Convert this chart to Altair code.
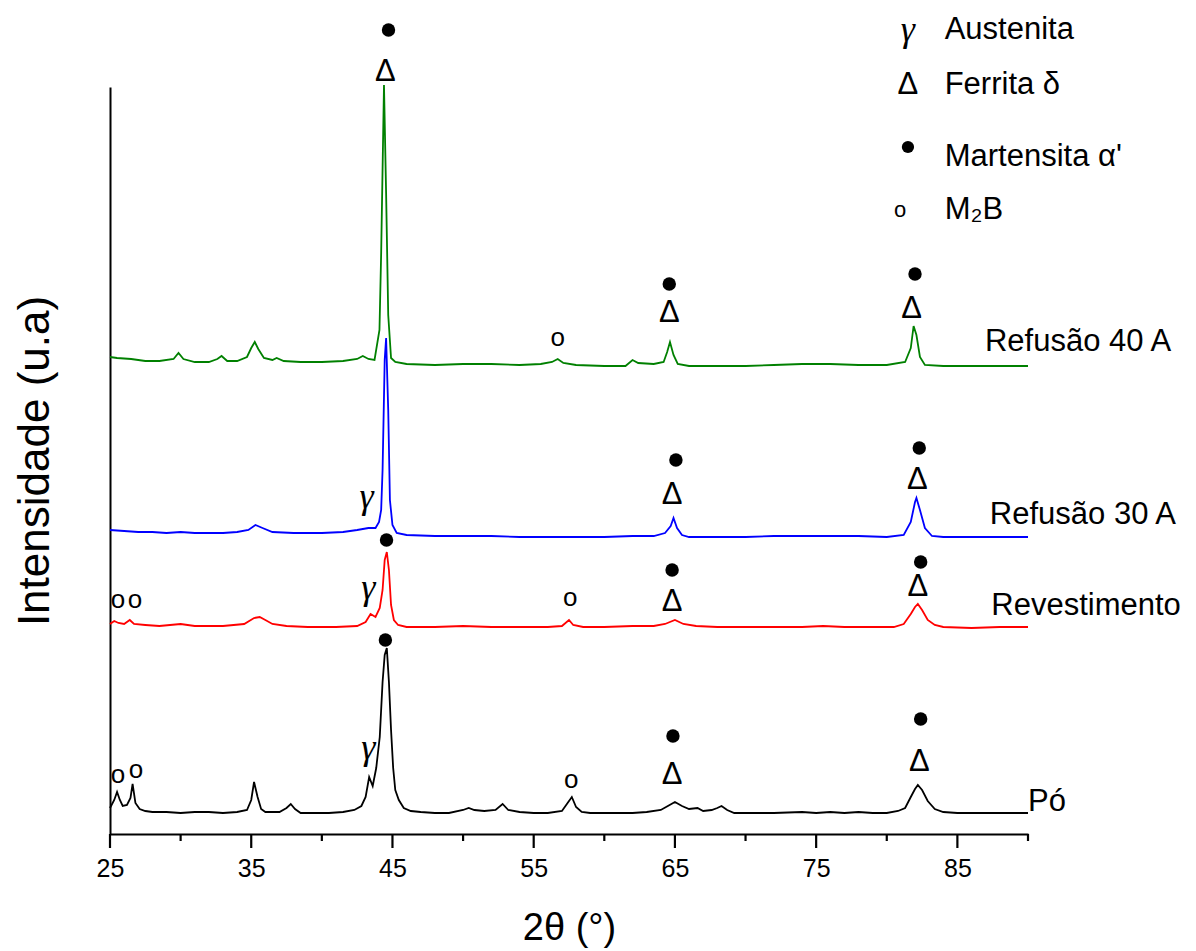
import altair as alt
import pandas as pd

# ---------------- data ----------------
series_names = ["Pó", "Revestimento", "Refusão 30 A", "Refusão 40 A"]
series_colors = ["#000000", "#FF0000", "#0000FF", "#008000"]

po_x = [25.0, 25.3, 25.5, 25.7, 25.9, 26.2, 26.45, 26.6, 26.8, 27.1, 27.5, 28.0, 29.0, 30.0, 31.0,
        32.0, 33.0, 34.0, 34.7, 35.0, 35.2, 35.45, 35.7, 36.0, 37.0, 37.5, 37.8, 38.1, 38.5, 39.5,
        40.5, 41.5, 42.3, 42.8, 43.1, 43.35, 43.6, 43.85, 44.1, 44.3, 44.45, 44.6, 44.75, 44.9,
        45.05, 45.2, 45.45, 45.8, 46.3, 47.0, 48.0, 49.0, 50.0, 50.4, 50.8, 51.5, 52.3, 52.8, 53.2,
        54.0, 55.0, 56.0, 57.0, 57.4, 57.7, 58.0, 58.4, 59.0, 60.0, 61.0, 62.0, 63.0, 64.0, 64.5,
        65.0, 65.5, 66.0, 66.6, 67.0, 67.6, 68.0, 68.3, 68.7, 69.2, 70.0, 72.0, 74.0, 75.0, 76.0,
        77.0, 78.0, 79.0, 80.0, 80.8, 81.3, 81.7, 82.0, 82.2, 82.5, 82.9, 83.4, 84.0, 85.0, 86.0,
        87.0, 88.0, 89.0, 90.0]
po_y = [26, 34, 42, 34, 28, 29, 36, 50, 31, 25, 23, 22, 22, 21, 22,
        22, 21, 22, 24, 34, 52, 37, 25, 22, 22, 26, 30, 25, 21, 21,
        21, 22, 24, 28, 37, 57, 48, 66, 97, 152, 179, 186, 152, 104,
        66, 44, 34, 26, 23, 22, 21, 21, 24, 26, 24, 23, 24, 30, 24,
        22, 21, 21, 23, 31, 37, 27, 22, 21, 21, 21, 21, 22, 24, 28,
        32, 28, 25, 26, 23, 24, 26, 28, 24, 21, 21, 21, 22, 21, 22,
        21, 22, 21, 21, 23, 26, 37, 45, 49, 44, 33, 25, 22, 21, 21,
        21, 21, 21, 21]

rev_x = [25.0, 25.3, 25.6, 26.0, 26.4, 26.7, 27.5, 28.5, 30.0, 31.0, 32.0, 33.0, 34.5, 35.2, 35.6,
         36.0, 36.5, 37.5, 39.0, 41.0, 42.5, 43.1, 43.45, 43.8, 44.1, 44.3, 44.45, 44.6, 44.75,
         44.9, 45.1, 45.4, 46.0, 48.0, 50.0, 52.0, 54.0, 56.0, 57.0, 57.5, 57.8, 58.5, 60.0, 62.0,
         63.5, 64.3, 65.0, 65.6, 66.5, 68.0, 70.0, 72.0, 74.0, 75.5, 77.0, 79.0, 80.5, 81.2, 81.7,
         82.0, 82.2, 82.5, 82.9, 83.4, 84.0, 86.0, 88.0, 90.0]
rev_y = [210, 213, 211, 210, 214, 210, 209, 208, 210, 208, 208, 208, 210, 216, 217,
         214, 210, 208, 207, 207, 208, 212, 220, 217, 226, 244, 274, 282, 264,
         229, 214, 209, 207, 207, 208, 207, 207, 207, 208, 214, 209, 207, 207, 208,
         208, 210, 214, 210, 208, 207, 207, 207, 207, 208, 207, 207, 207, 210, 220,
         227, 230, 224, 214, 209, 207, 206, 207, 207]

r30_x = [25.0, 26.0, 27.0, 28.0, 29.0, 30.0, 31.0, 32.0, 33.0, 34.0, 34.8, 35.3, 35.8, 36.5, 38.0,
         40.0, 41.5, 42.5, 43.3, 43.8, 44.05, 44.2, 44.3, 44.45, 44.55, 44.7, 44.82, 45.0, 45.3,
         46.0, 48.0, 50.0, 52.0, 54.0, 56.0, 58.0, 60.0, 62.0, 63.5, 64.3, 64.7, 64.9, 65.15,
         65.5, 66.0, 68.0, 70.0, 72.0, 74.0, 76.0, 78.0, 80.0, 81.2, 81.7, 82.0, 82.1, 82.35,
         82.7, 83.2, 84.0, 86.0, 88.0, 90.0]
r30_y = [304, 303, 302, 302, 301, 302, 301, 301, 301, 302, 304, 309, 306, 302, 301,
         301, 302, 304, 306, 306, 312, 324, 364, 474, 496, 424, 334, 309, 301,
         299, 298, 298, 298, 297, 297, 297, 297, 298, 298, 301, 308, 316, 306,
         299, 297, 297, 297, 298, 298, 298, 298, 297, 299, 312, 332, 336, 324,
         306, 298, 297, 297, 297, 297]

r40_x = [25.0, 25.5, 26.5, 27.5, 28.5, 29.5, 29.85, 30.2, 31.0, 32.0, 32.6, 32.9, 33.3, 34.0, 34.7,
         35.0, 35.25, 35.5, 35.9, 36.5, 36.8, 37.3, 38.5, 40.0, 41.5, 42.5, 42.9, 43.3, 43.73,
         44.08, 44.2, 44.4, 44.55, 44.7, 44.9, 45.2, 46.0, 48.0, 50.0, 52.0, 54.0, 55.5, 56.3,
         56.7, 57.1, 58.0, 60.0, 61.5, 62.0, 62.4, 63.5, 64.2, 64.45, 64.65, 64.9, 65.2, 66.0,
         68.0, 70.0, 72.0, 74.0, 76.0, 78.0, 80.0, 81.3, 81.7, 81.9, 82.1, 82.35, 82.7, 84.0,
         86.0, 88.0, 90.0]
r40_y = [477, 476, 475, 473, 473, 475, 481, 475, 472, 472, 475, 478, 473, 473, 477,
         486, 492, 485, 476, 474, 476, 473, 472, 472, 473, 475, 478, 475, 474,
         504, 581, 749, 641, 519, 476, 472, 470, 469, 470, 470, 469, 470, 472,
         475, 471, 469, 468, 468, 474, 471, 470, 472, 482, 492, 479, 470, 468,
         468, 468, 469, 470, 470, 469, 469, 472, 486, 508, 499, 477, 469, 468,
         468, 468, 468]

# phase markers above the peaks (2θ, intensity)
dot_x = [44.72, 64.6, 82.0, 65.07, 82.3, 44.58, 64.8, 82.4, 44.5, 64.86, 82.4]
dot_y = [804, 550, 560, 374, 386, 294, 264, 272, 194, 98, 115]
delta_x = [44.5, 64.6, 81.75, 64.8, 82.17, 64.8, 82.2, 64.8, 82.3]
delta_y = [762, 521, 525, 339, 354, 232, 247, 59, 72]
gamma_x = [43.16, 43.3, 43.3]
gamma_y = [337, 246, 86]
m2b_x = [56.7, 25.57, 26.77, 57.58, 25.57, 26.84, 57.65]
m2b_y = [496, 234, 234, 236, 59, 64, 54]

# legend of phases
legend_symbol_x = 81.5
legend_text_x = 84.1
legend_texts = ["Austenita", "Ferrita δ", "Martensita α'", "M₂B"]
legend_text_y = [804, 749, 677, 624]
legend_sym_y = [804, 749, 687, 624]

# series labels at the right
label_x = [90.0, 87.4, 87.3, 86.95]
label_y = [32, 228, 319, 492]

# axis ticks
major_ticks = [25, 35, 45, 55, 65, 75, 85]
minor_ticks = [30, 40, 50, 60, 70, 80, 90]

# ---------------- build tables ----------------
rows = []
for name, xs, ys in zip(series_names, [po_x, rev_x, r30_x, r40_x], [po_y, rev_y, r30_y, r40_y]):
    for i, (xv, yv) in enumerate(zip(xs, ys)):
        rows.append({"serie": name, "x": xv, "y": yv, "ordem": i})
df = pd.DataFrame(rows)

df_dot = pd.DataFrame({"x": dot_x, "y": dot_y})
df_delta = pd.DataFrame({"x": delta_x, "y": delta_y, "t": "Δ"})
df_gamma = pd.DataFrame({"x": gamma_x, "y": gamma_y, "t": "γ"})
df_m2b = pd.DataFrame({"x": m2b_x, "y": m2b_y, "t": "o"})
df_lab = pd.DataFrame({"x": label_x, "y": label_y, "t": series_names})
df_leg_txt = pd.DataFrame({"x": legend_text_x, "y": legend_text_y, "t": legend_texts})
df_leg_gamma = pd.DataFrame({"x": [legend_symbol_x], "y": [legend_sym_y[0]], "t": ["γ"]})
df_leg_delta = pd.DataFrame({"x": [legend_symbol_x], "y": [legend_sym_y[1]], "t": ["Δ"]})
df_leg_dot = pd.DataFrame({"x": [legend_symbol_x], "y": [legend_sym_y[2]]})
df_leg_o = pd.DataFrame({"x": [legend_symbol_x - 0.55], "y": [legend_sym_y[3]], "t": ["o"]})
df_major = pd.DataFrame({"x": major_ticks})
df_minor = pd.DataFrame({"x": minor_ticks})

FONT = "Liberation Sans"
PLOT_H = 747

x_scale = alt.Scale(domain=[25, 90], nice=False, zero=False)
y_scale = alt.Scale(domain=[0, 747], nice=False, zero=False)

x_axis = alt.Axis(values=major_ticks, orient="bottom", ticks=False, tickSize=0,
                  domainColor="black", domainWidth=2,
                  labelFontSize=25, labelColor="black", labelFont=FONT, labelPadding=22,
                  labelFlush=False, grid=False,
                  titleFont=FONT, titleFontSize=38, titleFontWeight="normal",
                  titleColor="black", titlePadding=28)
y_axis = alt.Axis(ticks=False, labels=False, grid=False, domainColor="black", domainWidth=2,
                  titleFont=FONT, titleFontSize=44, titleFontWeight="normal",
                  titleColor="black", titlePadding=53)

X = alt.X("x:Q", scale=x_scale, title="2θ (°)", axis=x_axis)
Y = alt.Y("y:Q", scale=y_scale, title="Intensidade (u.a)", axis=y_axis)

lines = alt.Chart(df).mark_line(strokeWidth=1.8, clip=False).encode(
    x=X, y=Y,
    color=alt.Color("serie:N", scale=alt.Scale(domain=series_names, range=series_colors), legend=None),
    order="ordem:Q",
)

def txt(data, size, font=FONT, style="normal", align="center"):
    return alt.Chart(data).mark_text(font=font, fontStyle=style, fontSize=size, color="black",
                                     baseline="middle", align=align).encode(x=X, y=Y, text="t:N")

major = alt.Chart(df_major).mark_rule(color="black", strokeWidth=2.2).encode(
    x=X, y=alt.value(PLOT_H), y2=alt.value(PLOT_H + 14))
minor = alt.Chart(df_minor).mark_rule(color="black", strokeWidth=2.2).encode(
    x=X, y=alt.value(PLOT_H), y2=alt.value(PLOT_H + 7))

dots = alt.Chart(df_dot).mark_point(filled=True, shape="circle", size=180, color="black", opacity=1).encode(x=X, y=Y)
deltas = txt(df_delta, 31)
gammas = txt(df_gamma, 36, font="Liberation Serif", style="italic")
m2b = txt(df_m2b, 26)
labels = txt(df_lab, 31, align="left")
leg_txt = txt(df_leg_txt, 31, align="left")
leg_gamma = txt(df_leg_gamma, 36, font="Liberation Serif", style="italic")
leg_delta = txt(df_leg_delta, 31)
leg_dot = alt.Chart(df_leg_dot).mark_point(filled=True, shape="circle", size=150, color="black", opacity=1).encode(x=X, y=Y)
leg_o = txt(df_leg_o, 22)

chart = alt.layer(lines, major, minor, dots, deltas, gammas, m2b, labels, leg_txt,
                  leg_gamma, leg_delta, leg_dot, leg_o).properties(
    width=918, height=PLOT_H,
    autosize=alt.AutoSizeParams(type="none"),
    padding={"left": 102, "top": 79, "right": 160, "bottom": 117},
    background="white",
).configure_view(stroke=None)

chart.save("out.html", embed_options={"renderer": "svg", "actions": False})
